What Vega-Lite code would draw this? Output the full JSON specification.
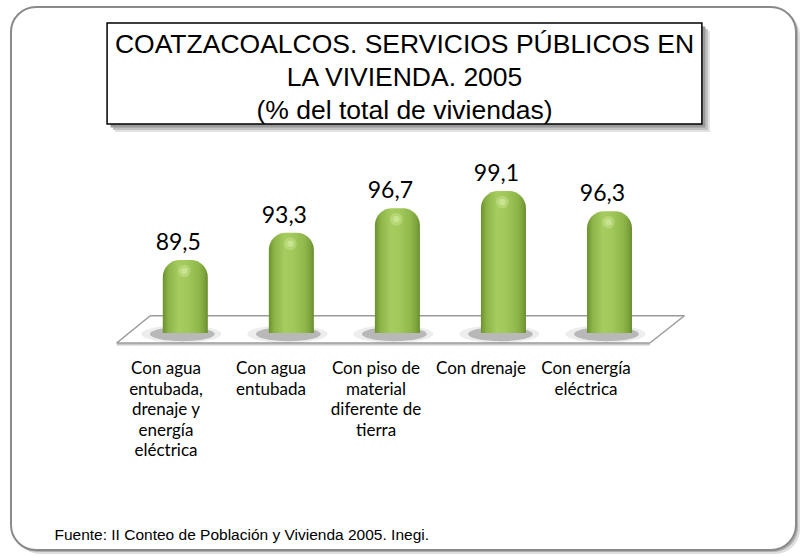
{
  "$schema": "https://vega.github.io/schema/vega-lite/v6.json",
  "width": 795,
  "height": 543,
  "autosize": {"type": "none"},
  "padding": {"left": 6, "top": 7, "right": 4, "bottom": 6},
  "background": "white",
  "config": {
    "view": {"stroke": null},
    "locale": {"number": {"decimal": ",", "thousands": ".", "grouping": [3], "currency": ["$", ""]}}
  },
  "datasets": {
    "servicios": [
      {"categoria": "Con agua\nentubada,\ndrenaje y\nenergía\neléctrica", "valor": 89.5},
      {"categoria": "Con agua\nentubada", "valor": 93.3},
      {"categoria": "Con piso de\nmaterial\ndiferente de\ntierra", "valor": 96.7},
      {"categoria": "Con drenaje", "valor": 99.1},
      {"categoria": "Con energía\neléctrica", "valor": 96.3}
    ],
    "uno": [{"titulo": "COATZACOALCOS. SERVICIOS PÚBLICOS EN\nLA VIVIENDA. 2005\n(% del total de viviendas)", "fuente": "Fuente: II Conteo de Población y Vivienda 2005. Inegi."}]
  },
  "resolve": {"scale": {"x": "independent"}},
  "layer": [
    {
      "layer": [
        {
          "data": {"name": "uno"},
          "mark": {"type": "rect", "fill": "#dedede", "cornerRadius": 25, "xOffset": 4, "x2Offset": 4, "yOffset": 4, "y2Offset": 4},
          "encoding": {
            "x": {"datum": -0.6434, "type": "quantitative", "scale": {"domain": [-0.6434, 6.7588], "zero": false, "nice": false}, "axis": null},
            "x2": {"datum": 6.7588},
            "y": {"datum": 124.69, "type": "quantitative", "scale": {"domain": [49.17, 124.69], "zero": false, "nice": false}, "axis": null},
            "y2": {"datum": 49.17}
          }
        },
        {
          "data": {"name": "uno"},
          "mark": {"type": "rect", "fill": "#b0b0b0", "cornerRadius": 25, "xOffset": 2, "x2Offset": 2, "yOffset": 2, "y2Offset": 2},
          "encoding": {
            "x": {"datum": -0.6434, "type": "quantitative", "axis": null},
            "x2": {"datum": 6.7588},
            "y": {"datum": 124.69, "type": "quantitative", "axis": null},
            "y2": {"datum": 49.17}
          }
        },
        {
          "data": {"name": "uno"},
          "mark": {"type": "rect", "fill": "white", "stroke": "#8a8a8a", "strokeWidth": 2, "cornerRadius": 25},
          "encoding": {
            "x": {"datum": -0.6434, "type": "quantitative", "axis": null},
            "x2": {"datum": 6.7588},
            "y": {"datum": 124.69, "type": "quantitative", "axis": null},
            "y2": {"datum": 49.17}
          }
        },
        {
          "data": {"name": "uno"},
          "mark": {"type": "rect", "fill": "#e2e2e2", "xOffset": 8, "x2Offset": 8, "yOffset": 8, "y2Offset": 8},
          "encoding": {
            "x": {"datum": 0.2626, "type": "quantitative", "axis": null},
            "x2": {"datum": 5.8715},
            "y": {"datum": 122.46, "type": "quantitative", "axis": null},
            "y2": {"datum": 108.42}
          }
        },
        {
          "data": {"name": "uno"},
          "mark": {"type": "rect", "fill": "#c2c2c2", "xOffset": 6, "x2Offset": 6, "yOffset": 6, "y2Offset": 6},
          "encoding": {
            "x": {"datum": 0.2626, "type": "quantitative", "axis": null},
            "x2": {"datum": 5.8715},
            "y": {"datum": 122.46, "type": "quantitative", "axis": null},
            "y2": {"datum": 108.42}
          }
        },
        {
          "data": {"name": "uno"},
          "mark": {"type": "rect", "fill": "#9a9a9a", "xOffset": 3.5, "x2Offset": 3.5, "yOffset": 3.5, "y2Offset": 3.5},
          "encoding": {
            "x": {"datum": 0.2626, "type": "quantitative", "axis": null},
            "x2": {"datum": 5.8715},
            "y": {"datum": 122.46, "type": "quantitative", "axis": null},
            "y2": {"datum": 108.42}
          }
        },
        {
          "data": {"name": "uno"},
          "mark": {"type": "rect", "fill": "white", "stroke": "black", "strokeWidth": 1.5},
          "encoding": {
            "x": {"datum": 0.2626, "type": "quantitative", "axis": null},
            "x2": {"datum": 5.8715},
            "y": {"datum": 122.46, "type": "quantitative", "axis": null},
            "y2": {"datum": 108.42}
          }
        },
        {
          "data": {"name": "uno"},
          "mark": {"type": "text", "lineBreak": "\n", "lineHeight": 33, "font": "Liberation Sans", "fontSize": 26.5, "align": "center", "baseline": "top", "color": "black"},
          "encoding": {
            "x": {"datum": 3.067, "type": "quantitative", "axis": null},
            "y": {"datum": 121.2, "type": "quantitative", "axis": null},
            "text": {"field": "titulo"}
          }
        },
        {
          "data": {"name": "uno"},
          "mark": {"type": "rule", "color": "#9a9a9a", "strokeWidth": 1.5},
          "encoding": {
            "x": {"datum": 0.6695, "type": "quantitative", "axis": null},
            "x2": {"datum": 5.7067},
            "y": {"datum": 81.75, "type": "quantitative", "axis": null},
            "y2": {"datum": 81.75}
          }
        },
        {
          "data": {"name": "uno"},
          "mark": {"type": "rule", "color": "#c8c8c8", "strokeWidth": 2, "yOffset": 1.5, "y2Offset": 1.5},
          "encoding": {
            "x": {"datum": 0.3529, "type": "quantitative", "axis": null},
            "x2": {"datum": 5.3808},
            "y": {"datum": 77.96, "type": "quantitative", "axis": null},
            "y2": {"datum": 77.96}
          }
        },
        {
          "data": {"name": "uno"},
          "mark": {"type": "rule", "color": "#9a9a9a", "strokeWidth": 1.5},
          "encoding": {
            "x": {"datum": 0.3529, "type": "quantitative", "axis": null},
            "x2": {"datum": 5.3808},
            "y": {"datum": 77.96, "type": "quantitative", "axis": null},
            "y2": {"datum": 77.96}
          }
        },
        {
          "data": {"name": "uno"},
          "mark": {"type": "rule", "color": "#9a9a9a", "strokeWidth": 1.5},
          "encoding": {
            "x": {"datum": 0.3529, "type": "quantitative", "axis": null},
            "x2": {"datum": 0.6695},
            "y": {"datum": 77.96, "type": "quantitative", "axis": null},
            "y2": {"datum": 81.75}
          }
        },
        {
          "data": {"name": "uno"},
          "mark": {"type": "rule", "color": "#9a9a9a", "strokeWidth": 1.5},
          "encoding": {
            "x": {"datum": 5.3808, "type": "quantitative", "axis": null},
            "x2": {"datum": 5.7067},
            "y": {"datum": 77.96, "type": "quantitative", "axis": null},
            "y2": {"datum": 81.75}
          }
        },
        {
          "data": {"name": "servicios"},
          "transform": [{"window": [{"op": "row_number", "as": "n"}]}],
          "mark": {"type": "point", "filled": true, "shape": "M -1 0 A 1 0.22 0 1 0 1 0 A 1 0.22 0 1 0 -1 0 Z", "size": 6400, "color": "#505050", "opacity": 0.1, "strokeWidth": 0, "xOffset": -4},
          "encoding": {
            "x": {"field": "n", "type": "quantitative", "axis": null},
            "y": {"datum": 79.2, "type": "quantitative", "axis": null}
          }
        },
        {
          "data": {"name": "servicios"},
          "transform": [{"window": [{"op": "row_number", "as": "n"}]}],
          "mark": {"type": "point", "filled": true, "shape": "M -1 0 A 1 0.22 0 1 0 1 0 A 1 0.22 0 1 0 -1 0 Z", "size": 4200, "color": "#404040", "opacity": 0.3, "strokeWidth": 0, "xOffset": -3},
          "encoding": {
            "x": {"field": "n", "type": "quantitative", "axis": null},
            "y": {"datum": 79.2, "type": "quantitative", "axis": null}
          }
        },
        {
          "data": {"name": "servicios"},
          "transform": [{"window": [{"op": "row_number", "as": "n"}]}],
          "mark": {
            "type": "bar",
            "width": 45,
            "cornerRadiusTopLeft": 17,
            "cornerRadiusTopRight": 17,
            "color": {
              "gradient": "linear", "x1": 0, "y1": 0, "x2": 1, "y2": 0,
              "stops": [
                {"offset": 0, "color": "#6c912f"},
                {"offset": 0.12, "color": "#8bb346"},
                {"offset": 0.35, "color": "#a6cc60"},
                {"offset": 0.55, "color": "#a2c85b"},
                {"offset": 0.8, "color": "#8fb74a"},
                {"offset": 0.93, "color": "#7ca33b"},
                {"offset": 1, "color": "#678a2b"}
              ]
            }
          },
          "encoding": {
            "x": {"field": "n", "type": "quantitative", "axis": null},
            "y": {"field": "valor", "type": "quantitative", "axis": null},
            "y2": {"datum": 79.35}
          }
        },
        {
          "data": {"name": "servicios"},
          "transform": [{"window": [{"op": "row_number", "as": "n"}]}],
          "mark": {"type": "point", "filled": true, "shape": "circle", "size": 160, "color": "#d6eea0", "opacity": 0.35, "strokeWidth": 0, "yOffset": 11, "xOffset": -1},
          "encoding": {
            "x": {"field": "n", "type": "quantitative", "axis": null},
            "y": {"field": "valor", "type": "quantitative", "axis": null}
          }
        },
        {
          "data": {"name": "servicios"},
          "transform": [{"window": [{"op": "row_number", "as": "n"}]}],
          "mark": {"type": "point", "filled": true, "shape": "circle", "size": 40, "color": "#e2f5b4", "opacity": 0.45, "strokeWidth": 0, "yOffset": 11, "xOffset": -1},
          "encoding": {
            "x": {"field": "n", "type": "quantitative", "axis": null},
            "y": {"field": "valor", "type": "quantitative", "axis": null}
          }
        },
        {
          "data": {"name": "servicios"},
          "transform": [{"window": [{"op": "row_number", "as": "n"}]}],
          "mark": {"type": "text", "font": "Lato", "fontSize": 23, "align": "center", "baseline": "alphabetic", "dx": -7, "dy": -10, "color": "black"},
          "encoding": {
            "x": {"field": "n", "type": "quantitative", "axis": null},
            "y": {"field": "valor", "type": "quantitative", "axis": null},
            "text": {"field": "valor", "type": "quantitative", "format": ".1f"}
          }
        },
        {
          "data": {"name": "uno"},
          "mark": {"type": "text", "font": "Liberation Sans", "fontSize": 15.5, "align": "left", "baseline": "alphabetic", "color": "black"},
          "encoding": {
            "x": {"datum": -0.2337, "type": "quantitative", "axis": null},
            "y": {"datum": 50.56, "type": "quantitative", "axis": null},
            "text": {"field": "fuente"}
          }
        }
      ]
    },
    {
      "data": {"name": "servicios"},
      "transform": [{"window": [{"op": "row_number", "as": "n"}]}],
      "mark": {"type": "text", "lineBreak": "\n", "lineHeight": 20.5, "font": "Lato", "fontSize": 17, "align": "center", "baseline": "top", "color": "black"},
      "encoding": {
        "x": {"field": "n", "type": "quantitative", "scale": {"domain": [-0.5238, 7.0476], "zero": false, "nice": false}, "axis": null},
        "y": {"datum": 75.4, "type": "quantitative", "scale": {"domain": [49.17, 124.69], "zero": false, "nice": false}, "axis": null},
        "text": {"field": "categoria"}
      }
    }
  ]
}
